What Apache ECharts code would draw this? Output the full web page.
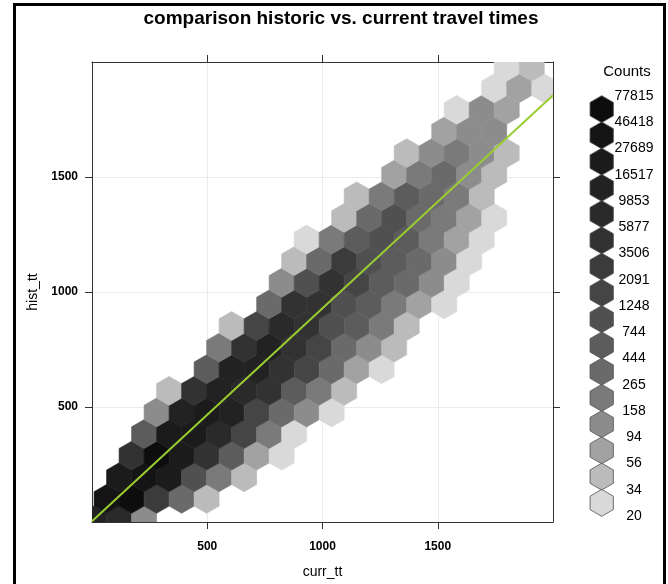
<!DOCTYPE html>
<html>
<head>
<meta charset="utf-8">
<title>comparison historic vs. current travel times</title>
<script src="https://cdn.jsdelivr.net/npm/echarts@6/dist/echarts.min.js"></script>
<style>
  html, body { margin: 0; padding: 0; background: #fff; }
  #chart { width: 668px; height: 584px; }
</style>
</head>
<body>
<div id="chart"></div>
<script>
// hexbin cells, row by row from the bottom.
// row r, column c -> centre (hexOrigin + (c + r%2/2) * hexWidth, hexOrigin + r * rowHeight)
const hexOrigin = [9, 6.5];   // curr_tt, hist_tt of bin (row 0, col 0)
const hexWidth = 108.5;       // bin width in curr_tt units
const rowFirstCol = [0, 0, 1, 1, 2, 2, 3, 4, 5, 5, 7, 7, 8, 8, 10, 10, 12, 12, 14, 14, 16, 16];
const rowCounts = [
    [12760, 7610, 120],
    [35850, 60100, 2710, 343, 44],
    [21390, 35850, 21390, 965, 205, 44],
    [4540, 60100, 21390, 4540, 575, 72, 26],
    [575, 21390, 21390, 7610, 1615, 205, 26],
    [120, 12760, 21390, 12760, 1615, 343, 120, 26],
    [44, 4540, 12760, 7610, 4540, 575, 205, 44],
    [575, 12760, 12760, 4540, 1615, 343, 72, 26],
    [205, 4540, 12760, 4540, 1615, 343, 120, 44],
    [44, 1615, 7610, 4540, 965, 575, 205, 44],
    [343, 4540, 4540, 965, 575, 205, 72, 26],
    [120, 965, 4540, 1615, 575, 343, 120, 26],
    [44, 343, 2710, 965, 575, 343, 120, 26],
    [26, 205, 575, 965, 575, 205, 72, 26],
    [44, 343, 965, 343, 205, 72, 26],
    [44, 205, 575, 343, 205, 44],
    [72, 205, 343, 120, 44],
    [44, 120, 205, 120, 44],
    [72, 120, 120],
    [26, 120, 72],
    [26, 72, 26],
    [26, 44]
];

// colour key
const countBreaks = [20, 34, 56, 94, 158, 265, 444, 744, 1248, 2091, 3506, 5877, 9853, 16517, 27689, 46418, 77815];
const countGrays = ['#d9d9d9', '#bbbbbb', '#a2a2a2', '#8c8c8c', '#7a7a7a', '#6a6a6a', '#5c5c5c', '#505050',
    '#454545', '#3b3b3b', '#323232', '#2a2a2a', '#222222', '#1b1b1b', '#141414', '#0d0d0d'];

// regression line hist_tt = a + b * curr_tt
const fitLine = { intercept: 3, slope: 0.926 };

const axisTicks = [500, 1000, 1500];

const FONT = '"Liberation Sans", Arial, sans-serif';

const rowHeight = hexWidth * Math.sqrt(3) / 2;
const cells = [];
rowCounts.forEach(function (counts, r) {
    counts.forEach(function (n, k) {
        const col = rowFirstCol[r] + k;
        cells.push([hexOrigin[0] + (col + (r % 2) / 2) * hexWidth, hexOrigin[1] + r * rowHeight, n]);
    });
});

function grayFor(n) {
    let i = 0;
    while (i < countGrays.length - 1 && n >= countBreaks[i + 1]) i++;
    return countGrays[i];
}

function hexPoints(cx, cy, w) {
    const r = w / Math.sqrt(3);
    const pts = [];
    for (let k = 0; k < 6; k++) {
        const a = Math.PI / 180 * (60 * k + 30);
        pts.push([cx + r * Math.cos(a), cy + r * Math.sin(a)]);
    }
    return pts;
}

function renderHex(params, api) {
    const c = api.coord([api.value(0), api.value(1)]);
    const w = api.size([hexWidth, 0])[0];
    const col = grayFor(api.value(2));
    return {
        type: 'polygon',
        shape: { points: hexPoints(c[0], c[1], w) },
        style: { fill: col, stroke: col, lineWidth: 0.6 }
    };
}

// key on the right: darkest on top
const keyElements = [];
const keyX = 601.7, keyTop = 96, keyStep = 26.25, keyHexW = 23.3;
for (let i = 0; i < countGrays.length; i++) {
    keyElements.push({
        type: 'polygon',
        shape: { points: hexPoints(keyX, keyTop + keyStep * (i + 0.5), keyHexW) },
        style: { fill: countGrays[countGrays.length - 1 - i], stroke: '#4d4d4d', lineWidth: 0.8 }
    });
}
for (let i = 0; i < countBreaks.length; i++) {
    keyElements.push({
        type: 'text',
        x: 634, y: keyTop + keyStep * i,
        style: {
            text: String(countBreaks[countBreaks.length - 1 - i]),
            font: '14px ' + FONT, fill: '#000',
            align: 'center', verticalAlign: 'middle',
            textAlign: 'center', textVerticalAlign: 'middle'
        }
    });
}
keyElements.push({
    type: 'text', x: 627, y: 72,
    style: {
        text: 'Counts', font: '15px ' + FONT, fill: '#000',
        align: 'center', verticalAlign: 'middle', textAlign: 'center', textVerticalAlign: 'middle'
    }
});

const chart = echarts.init(document.getElementById('chart'));

const baseAxis = {
    type: 'value', min: 0, max: 2000, interval: 500,
    axisLine: { show: true, onZero: false, lineStyle: { color: '#333', width: 1 } },
    axisTick: { show: true, length: 7, customValues: axisTicks, lineStyle: { color: '#333' } },
    splitLine: { show: false }
};
const tickLabel = {
    customValues: axisTicks,
    fontSize: 12, fontWeight: 'bold', color: '#000', fontFamily: FONT,
    formatter: function (v) { return (v > 0 && v < 2000) ? String(v) : ''; }
};

chart.setOption({
    animation: false,
    backgroundColor: '#fff',
    grid: { left: 92, top: 62, width: 461, height: 461 },
    xAxis: [
        Object.assign({}, baseAxis, {
            position: 'bottom',
            axisLabel: Object.assign({ margin: 19 }, tickLabel),
            splitLine: { show: true, lineStyle: { color: '#ebebeb', width: 1 } },
            name: 'curr_tt', nameLocation: 'middle', nameGap: 43,
            nameTextStyle: { fontSize: 14, color: '#000', fontFamily: FONT }
        }),
        Object.assign({}, baseAxis, { position: 'top', axisLabel: { show: false } })
    ],
    yAxis: [
        Object.assign({}, baseAxis, {
            position: 'left',
            axisLabel: Object.assign({ margin: 14 }, tickLabel),
            splitLine: { show: true, lineStyle: { color: '#ebebeb', width: 1 } },
            name: 'hist_tt', nameLocation: 'middle', nameGap: 52, nameRotate: 90,
            nameTextStyle: { fontSize: 14, color: '#000', fontFamily: FONT }
        }),
        Object.assign({}, baseAxis, { position: 'right', axisLabel: { show: false } })
    ],
    series: [
        {
            type: 'custom',
            coordinateSystem: 'cartesian2d',
            xAxisIndex: 0, yAxisIndex: 0,
            renderItem: renderHex,
            encode: { x: 0, y: 1 },
            data: cells,
            clip: true,
            silent: true,
            z: 2
        },
        {
            type: 'line',
            xAxisIndex: 0, yAxisIndex: 0,
            data: [[0, fitLine.intercept], [2000, fitLine.intercept + fitLine.slope * 2000]],
            symbol: 'none',
            lineStyle: { color: '#9acd32', width: 2 },
            clip: true,
            silent: true,
            z: 3
        }
    ],
    graphic: [
        {
            type: 'rect',
            shape: { x: 14.5, y: 4.5, width: 650, height: 640 },
            style: { fill: 'none', stroke: '#000', lineWidth: 3 },
            silent: true
        },
        {
            type: 'text', x: 341, y: 19,
            style: {
                text: 'comparison historic vs. current travel times',
                font: 'bold 19px ' + FONT, fill: '#000',
                align: 'center', verticalAlign: 'middle', textAlign: 'center', textVerticalAlign: 'middle'
            }
        }
    ].concat(keyElements)
});
</script>
</body>
</html>
